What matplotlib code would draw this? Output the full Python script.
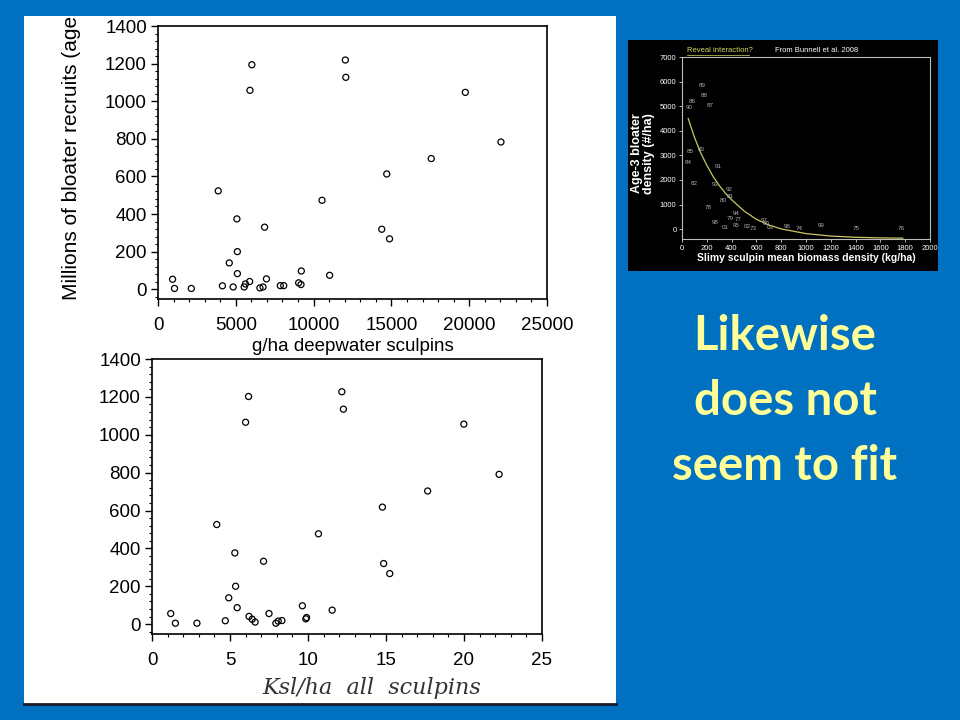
import matplotlib
matplotlib.use("Agg")
import matplotlib.pyplot as plt
from matplotlib.patches import Rectangle
from matplotlib.lines import Line2D
from matplotlib.ticker import MultipleLocator

# deepwater sculpin biomass (g/ha) vs bloater recruits (millions)
deep_x = [936, 1060, 2140, 3870, 4140, 4580, 4830, 5070, 5100, 5100, 5540, 5620,
          5890, 5910, 6030, 6550, 6750, 6850, 6970, 7860, 8080, 9040, 9190, 9210,
          10540, 11030, 12040, 12070, 14380, 14700, 14880, 17560, 19750, 22040]
deep_y = [53, 4, 4, 523, 18, 140, 12, 374, 200, 83, 12, 28,
          41, 1058, 1194, 7, 12, 330, 55, 19, 19, 34, 25, 97,
          473, 74, 1219, 1127, 319, 613, 268, 695, 1047, 783]

# all sculpins (kg/ha) vs bloater recruits (millions)
all_x = [1.20, 1.50, 2.88, 4.15, 4.70, 4.92, 5.31, 5.36, 5.46, 6.00, 6.19, 6.22,
         6.42, 6.61, 7.15, 7.50, 7.94, 8.09, 8.33, 9.64, 9.86, 9.91, 10.67, 11.55,
         12.17, 12.27, 14.77, 14.85, 15.24, 17.67, 19.99, 22.25]
all_y = [56, 5, 5, 526, 18, 139, 376, 200, 87, 1066, 1202, 41,
         26, 11, 332, 56, 5, 16, 19, 97, 28, 35, 477, 74,
         1227, 1135, 618, 320, 267, 703, 1056, 791]

# inset: slimy sculpin density vs age-3 bloater density, points labelled by year
slimy_lbl = ["89", "88", "86", "87", "90", "85", "83", "84", "91", "82", "93", "92",
             "81", "80", "78", "94", "79", "77", "98", "01", "95", "02", "73", "97",
             "00", "03", "96", "74", "99", "75", "76"]
slimy_x = [161, 183, 83, 229, 57, 70, 156, 48, 291, 102, 264, 382,
           393, 336, 215, 441, 388, 452, 264, 345, 436, 528, 573, 662,
           678, 713, 845, 942, 1120, 1402, 1771]
slimy_y = [5842, 5447, 5202, 5039, 4957, 3146, 3241, 2710, 2547, 1852, 1825, 1620,
           1321, 1185, 872, 654, 449, 409, 272, 54, 136, 95, 14, 354,
           218, 68, 123, 27, 150, 27, 27]
fit_x = [50, 100, 150, 200, 250, 300, 350, 400, 500, 600, 700, 800, 1000, 1200, 1400, 1600, 1780]
fit_y = [4500, 3740, 3110, 2600, 2150, 1780, 1460, 1200, 740, 400, 170, 10, -180, -280, -330, -355, -367]

BLUE = "#0070C0"
W, H = 960, 720


def fx(px):
    return px / W


def fy(py):
    return 1 - py / H


fig = plt.figure(figsize=(9.6, 7.2), dpi=100, facecolor=BLUE)
plt.rcParams["font.family"] = ["Liberation Sans", "DejaVu Sans"]

# white scanned page and black inset panel
fig.add_artist(Rectangle((fx(24), fy(705)), fx(592), 689 / H, transform=fig.transFigure,
                         facecolor="white", edgecolor="none", zorder=-10))
fig.add_artist(Line2D([fx(24), fx(616)], [fy(704), fy(704)], transform=fig.transFigure,
                      color="#1a1a2a", lw=2, zorder=-9))
fig.add_artist(Rectangle((fx(628), fy(271)), fx(310), 231 / H, transform=fig.transFigure,
                         facecolor="black", edgecolor="none", zorder=-10))


def style_scan(ax, xmaj, xmin):
    ax.set_ylim(-52, 1400)
    ax.set_yticks(range(0, 1401, 200))
    ax.yaxis.set_minor_locator(MultipleLocator(40))
    ax.xaxis.set_major_locator(MultipleLocator(xmaj))
    ax.xaxis.set_minor_locator(MultipleLocator(xmin))
    ax.tick_params(which="major", direction="out", length=5, width=1, labelsize=13.5, pad=3)
    ax.tick_params(axis="x", which="major", pad=8)
    ax.tick_params(which="minor", direction="out", length=2.5, width=0.8)
    for s in ax.spines.values():
        s.set_linewidth(1.2)


# top scatter
ax1 = fig.add_axes([fx(158), fy(299), fx(389), 273 / H])
ax1.scatter(deep_x, deep_y, s=19, facecolors="none", edgecolors="black", linewidths=0.9)
ax1.set_xlim(0, 25000)
style_scan(ax1, 5000, 1000)
ax1.set_xlabel("g/ha deepwater sculpins", fontsize=13.5, labelpad=3)
# label runs off the top of the scanned page, as in the slide
fig.text(fx(72), fy(300), "Millions of bloater recruits (age-1)", rotation=90,
         ha="center", va="bottom", fontsize=15, zorder=1)

# bottom scatter
ax2 = fig.add_axes([fx(152), fy(634), fx(390), 275 / H])
ax2.scatter(all_x, all_y, s=19, facecolors="none", edgecolors="black", linewidths=0.9)
ax2.set_xlim(0, 25)
style_scan(ax2, 5, 1)
fig.text(fx(372), fy(688), "Ksl/ha  all  sculpins", ha="center", va="center",
         fontsize=16, style="italic", color="#333333", family="DejaVu Serif", zorder=1)

# inset chart
ax3 = fig.add_axes([fx(682), fy(239), fx(248), 182 / H], facecolor="black")
ax3.plot(fit_x, fit_y, color="#c8c860", lw=0.9)
for lbl, x, y in zip(slimy_lbl, slimy_x, slimy_y):
    ax3.text(x, y, lbl, fontsize=4.5, color="#b0b0b0", ha="center", va="center")
ax3.set_xlim(0, 2000)
ax3.set_ylim(-400, 7000)
ax3.set_xticks(range(0, 2001, 200))
ax3.set_yticks(range(0, 7001, 1000))
ax3.tick_params(colors="#d0d0d0", labelcolor="white", labelsize=5.5, length=2, width=0.6, pad=2)
for s in ax3.spines.values():
    s.set_color("#bbbbbb")
    s.set_linewidth(0.8)
ax3.set_xlabel("Slimy sculpin mean biomass density (kg/ha)", color="white",
               fontsize=7.5, fontweight="bold", labelpad=1)
ax3.set_ylabel("Age-3 bloater\ndensity (#/ha)", color="white", fontsize=9,
               fontweight="bold", linespacing=0.95)
ax3.yaxis.set_label_coords(-0.11, 0.47)
fig.text(fx(687), fy(50), "Reveal interaction?", fontsize=5.5, color="#d8d860",
         ha="left", va="center")
fig.add_artist(Line2D([fx(687), fx(749)], [fy(54.5), fy(54.5)], transform=fig.transFigure,
                      color="#d8d860", lw=0.5))
fig.text(fx(775), fy(50), "From Bunnell et al. 2008", fontsize=5.5, color="white",
         ha="left", va="center")

# slide text
for txt, yy in [("Likewise", 336), ("does not", 401), ("seem to fit", 466)]:
    fig.text(fx(785), fy(yy), txt, ha="center", va="center", fontsize=34,
             fontweight="bold", color="#FFFF99", family="Lato")

# blue band on top clips the scanned page
fig.add_artist(Rectangle((0, fy(16)), 1, 16 / H, transform=fig.transFigure,
                         facecolor=BLUE, edgecolor="none", zorder=10))

fig.savefig("out.png", dpi=100, facecolor=BLUE)
plt.close(fig)
